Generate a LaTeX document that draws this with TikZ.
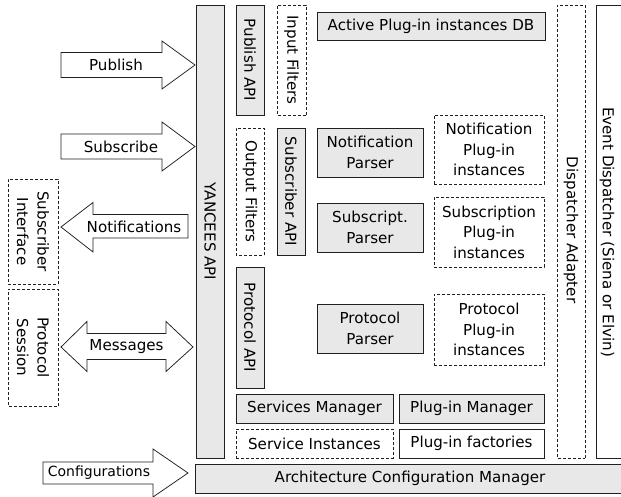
\documentclass[tikz,border=0pt]{standalone}
\usepackage{fontspec}
\setmainfont{DejaVu Sans}
\definecolor{boxgray}{HTML}{E8E8E8}
\definecolor{lineblk}{HTML}{202020}
\newcommand{\lblfont}{\fontsize{15.1}{20.5}\selectfont}
\tikzset{
  base/.style={draw=lineblk, line width=0.75pt, inner sep=0pt, align=center, font=\lblfont},
  graybox/.style={base, fill=boxgray},
  dashbox/.style={base, dash pattern=on 3pt off 2pt, fill=white},
  whitebox/.style={base, fill=white},
  vert/.style={rotate=-90},
  blockarrow/.style={draw=lineblk, line width=0.75pt, fill=white, line join=miter},
  arrowlbl/.style={inner sep=0pt, font=\lblfont},
}
\begin{document}
\begin{tikzpicture}[x=1pt,y=-1pt]
\useasboundingbox (0,0) rectangle (621,497);
\clip (0,0) rectangle (621,497);

% big vertical bars
\node[graybox, vert, minimum width=453, minimum height=28] (yapi) at (210,231.5) {YANCEES API};
\node[dashbox, vert, minimum width=453, minimum height=28] (dispad) at (571,231.5) {};
\node[vert, arrowlbl] (dispadt) at (571,230) {Dispatcher Adapter};
\node[whitebox, minimum width=40, minimum height=453] (eventd) at (616,231.5) {};
\node[vert, arrowlbl] (eventdt) at (607,232) {Event Dispatcher (Siena or Elvin)};
\node[graybox, minimum width=430, minimum height=29] (acm) at (410,478.5) {Architecture Configuration Manager};

% API columns
\node[graybox, vert, minimum width=110, minimum height=28] (pubapi) at (250,60) {Publish API};
\node[dashbox, vert, minimum width=110, minimum height=29] (infilt) at (291.5,60) {Input Filters};
\node[dashbox, vert, minimum width=127, minimum height=28] (outfilt) at (250,191.5) {Output Filters};
\node[graybox, vert, minimum width=127, minimum height=28] (subapi) at (291,191.5) {Subscriber API};
\node[graybox, vert, minimum width=121, minimum height=28] (protapi) at (250,327.5) {Protocol API};

% parsers and plug-ins
\node[graybox, minimum width=228, minimum height=28] (activedb) at (431,26) {Active Plug-in instances DB};
\node[graybox, minimum width=106, minimum height=49] (notparser) at (370,152.5) {Notification\\Parser};
\node[graybox, minimum width=106, minimum height=49] (subparser) at (370,227.5) {Subscript.\\Parser};
\node[graybox, minimum width=106, minimum height=49] (protparser) at (370,328.5) {Protocol\\Parser};
\node[dashbox, minimum width=110, minimum height=69] (notplug) at (489,149.5) {Notification\\Plug-in\\instances};
\node[dashbox, minimum width=110, minimum height=70] (subplug) at (489,232) {Subscription\\Plug-in\\instances};
\node[dashbox, minimum width=110, minimum height=71] (protplug) at (489,329.5) {Protocol\\Plug-in\\instances};

% managers
\node[graybox, minimum width=157, minimum height=29] (servman) at (314.5,408.5) {Services Manager};
\node[graybox, minimum width=145, minimum height=29] (plugman) at (471.5,408.5) {Plug-in Manager};
\node[dashbox, minimum width=157, minimum height=29] (servinst) at (314.5,443.5) {Service Instances};
\node[whitebox, minimum width=145, minimum height=29] (plugfact) at (471.5,443.5) {Plug-in factories};

% left side boxes
\node[dashbox, vert, minimum width=105, minimum height=50] (subint) at (33,231.5) {Subscriber\\Interface};
\node[dashbox, vert, minimum width=117, minimum height=50] (protsess) at (33,347.5) {Protocol\\Session};

% block arrows
\draw[blockarrow] (61,52.5) -- (162,52.5) -- (162,41) -- (195,65) -- (162,89) -- (162,77.5) -- (61,77.5) -- cycle;
\node[arrowlbl] (publbl) at (116,65) {Publish};

\draw[blockarrow] (61,134) -- (162,134) -- (162,122) -- (195,146.5) -- (162,171) -- (162,159) -- (61,159) -- cycle;
\node[arrowlbl] (sublbl) at (121,146.5) {Subscribe};

\draw[blockarrow] (188,214.5) -- (93,214.5) -- (93,202.5) -- (61,227) -- (93,252) -- (93,238) -- (188,238) -- cycle;
\node[arrowlbl] (notlbl) at (134,226.5) {Notifications};

\draw[blockarrow] (61,347) -- (87,321.5) -- (87,333.5) -- (166,333.5) -- (166,321.5) -- (193,347) -- (166,371.5) -- (166,359.5) -- (87,359.5) -- (87,371.5) -- cycle;
\node[arrowlbl] (msglbl) at (126.5,347) {Messages};

\draw[blockarrow] (43,462) -- (153,462) -- (153,449) -- (188,473) -- (153,497) -- (153,484) -- (43,484) -- cycle;
\node[arrowlbl, font=\fontsize{14}{16}\selectfont] (conflbl) at (99,473) {Configurations};
\end{tikzpicture}
\end{document}
